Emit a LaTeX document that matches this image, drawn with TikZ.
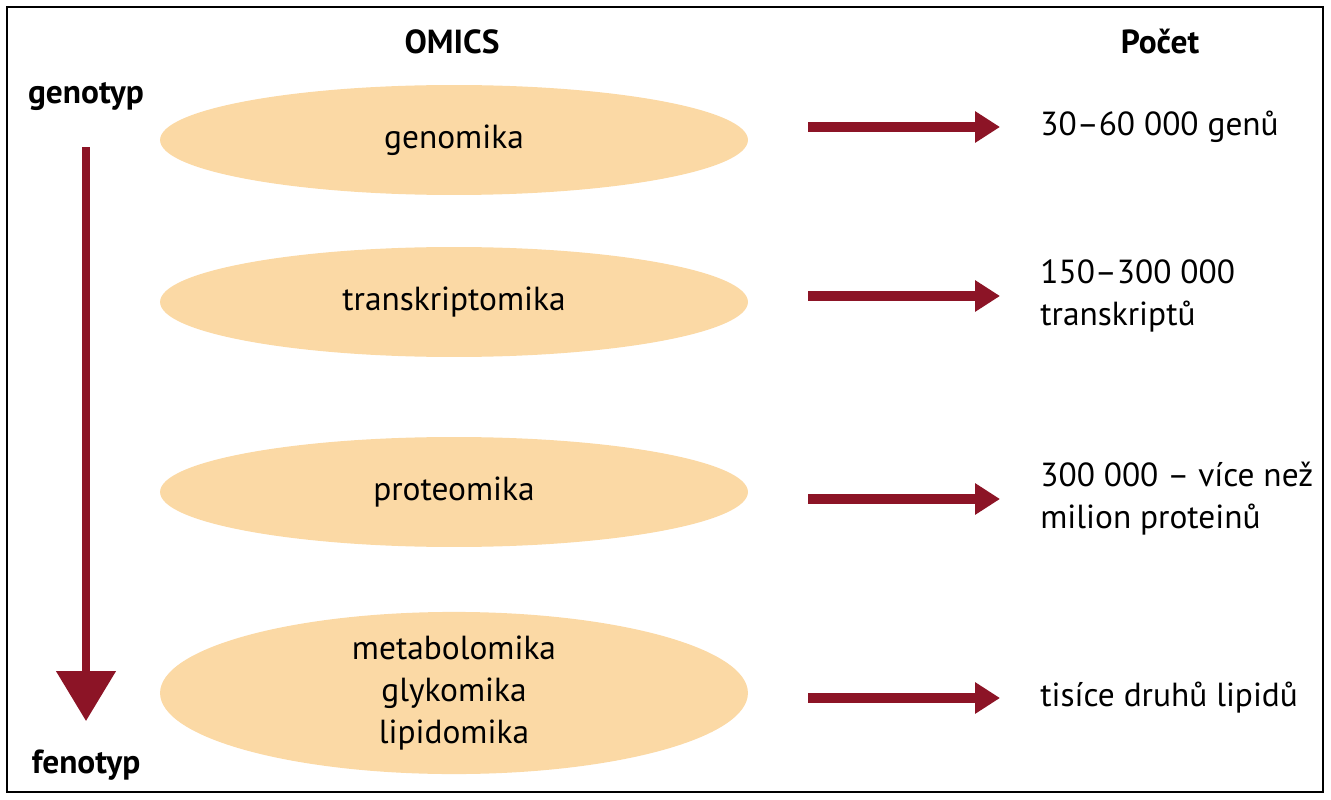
\documentclass[tikz,border=0pt]{standalone}
\usepackage{fontspec}
\setmainfont{PT Sans}
\usepackage{tikz}
\usetikzlibrary{arrows.meta,positioning,shapes.geometric}

\definecolor{omicsfill}{RGB}{251,217,165}
\definecolor{omicsred}{RGB}{140,20,38}

\begin{document}
\begin{tikzpicture}[
        x=0.02cm,y=-0.02cm,
        font=\fontsize{19}{24}\selectfont,
        omics/.style={ellipse,fill=omicsfill,minimum width=11.76cm,minimum height=2.2cm,align=center,inner sep=0pt},
        count/.style={anchor=west,align=left,inner sep=0pt},
        head/.style={font=\fontsize{19}{24}\selectfont\bfseries},
        arrow/.style={-{Triangle[length=0.5cm,width=0.6cm]},line width=0.2cm,omicsred,shorten <=1.2cm,shorten >=0.8cm},
        flow/.style={-{Triangle[length=1cm,width=1.16cm]},line width=0.16cm,omicsred,shorten <=0.6cm,shorten >=0.45cm}
    ]
        \useasboundingbox (0,0) rectangle (1331,800);
        \draw[line width=0.05cm] (7,7) rectangle (1323,792);

        \node[head] (omicsh) at (452,42) {OMICS};
        \node[head] (pocet) at (1160,42) {Počet};
        \node[head] (geno) at (86,97) {genotyp};
        \node[head] (feno) at (86,765) {fenotyp};

        \node[omics] (gen) at (454,140) {genomika};
        \node[omics] (trans) at (454,302) {transkriptomika};
        \node[omics] (prot) at (454,492) {proteomika};
        \node[omics,minimum height=2.8cm] (meta) at (454,693) {metabolomika\\glykomika\\lipidomika};

        \node[count] (genc) at (1040,127) {30–60 000 genů};
        \node[count] (transc) at (1040,296) {150–300 000\\transkriptů};
        \node[count] (protc) at (1040,499) {300 000 – více než\\milion proteinů};
        \node[count] (metac) at (1040,698) {tisíce druhů lipidů};

        \draw[flow] (geno) -- (feno);
        \draw[arrow] (gen.east |- genc.west) -- (genc.west);
        \draw[arrow] (trans.east |- transc.west) -- (transc.west);
        \draw[arrow] (prot.east |- protc.west) -- (protc.west);
        \draw[arrow] (meta.east |- metac.west) -- (metac.west);
    \end{tikzpicture}
\end{document}
